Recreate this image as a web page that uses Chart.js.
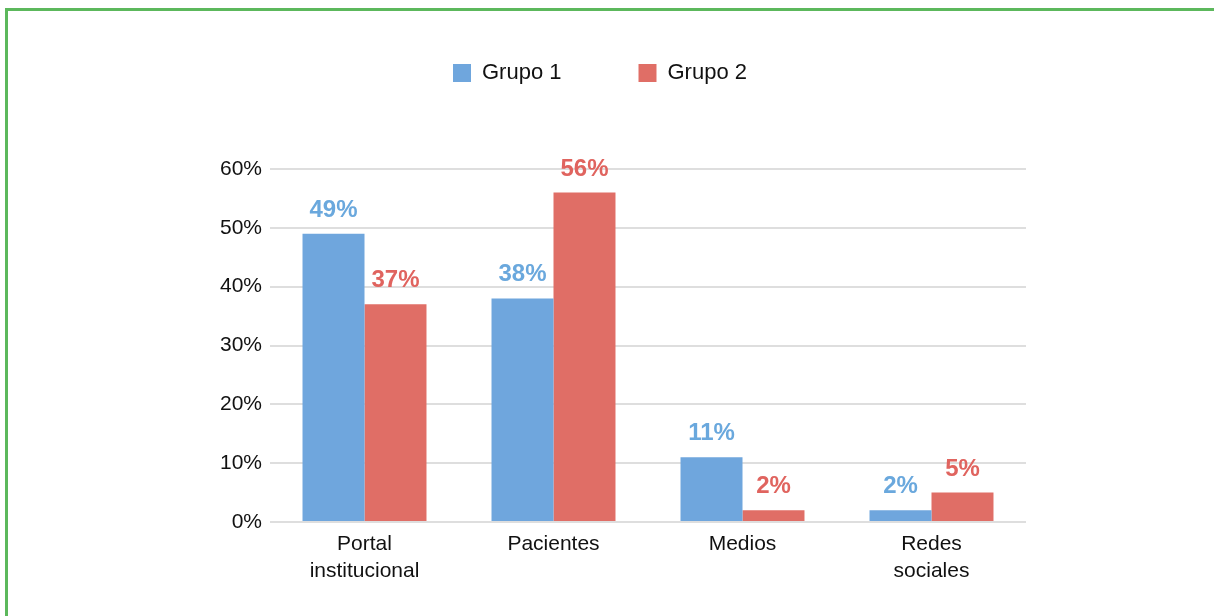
<!DOCTYPE html>
<html lang="es">
<head>
    <meta charset="UTF-8">
    <title>Grupo 1 / Grupo 2</title>
    <script src="https://cdn.jsdelivr.net/npm/chart.js"></script>
    <style>
        html, body { margin: 0; padding: 0; background: #fff; }
        #wrap { position: relative; width: 1214px; height: 616px; }
        #wrap .top { position: absolute; left: 5px; top: 8px; right: 0; height: 3px; background: #5cb85c; }
        #wrap .left { position: absolute; left: 5px; top: 8px; bottom: 0; width: 3px; background: #5cb85c; }
        canvas { position: absolute; left: 0; top: 0; }
    </style>
</head>
<body>
<div id="wrap">
    <canvas id="grafico" width="1214" height="616"></canvas>
    <div class="top"></div>
    <div class="left"></div>
</div>
<script>
    const categorias = [['Portal', 'institucional'], 'Pacientes', 'Medios', ['Redes', 'sociales']];
    const grupo1 = [49, 38, 11, 2];
    const grupo2 = [37, 56, 2, 5];
    const series = ['Grupo 1', 'Grupo 2'];
    const ticksY = [0, 10, 20, 30, 40, 50, 60];

    const azul = '#6fa6dd';
    const rojo = '#e06e66';
    const azulTexto = '#6aa8dd';
    const rojoTexto = '#e0645f';

    // etiquetas encima de las barras
    const etiquetas = {
        id: 'etiquetas',
        afterDatasetsDraw(chart) {
            const ctx = chart.ctx;
            ctx.save();
            ctx.font = 'bold 24px "Liberation Sans", Arial, sans-serif';
            ctx.textAlign = 'center';
            ctx.textBaseline = 'alphabetic';
            chart.data.datasets.forEach((ds, i) => {
                const meta = chart.getDatasetMeta(i);
                ctx.fillStyle = i === 0 ? azulTexto : rojoTexto;
                meta.data.forEach((bar, j) => {
                    ctx.fillText(ds.data[j] + '%', bar.x, bar.y - 17);
                });
            });
            ctx.restore();
        }
    };

    // espacio entre leyenda y grafico, y leyenda corrida a la derecha
    const altoLeyenda = {
        id: 'altoLeyenda',
        beforeInit(chart) {
            const fit = chart.legend.fit;
            chart.legend.fit = function () {
                fit.bind(chart.legend)();
                this.height = 184;
            };
        },
        afterLayout(chart) {
            chart.legend.left += 87;
            chart.legend.right += 87;
        }
    };

    new Chart(document.getElementById('grafico'), {
        type: 'bar',
        data: {
            labels: categorias,
            datasets: [
                { label: series[0], data: grupo1, backgroundColor: azul },
                { label: series[1], data: grupo2, backgroundColor: rojo }
            ]
        },
        options: {
            responsive: false,
            animation: false,
            layout: { padding: { top: -15, right: 188, bottom: 0, left: 0 } },
            datasets: { bar: { barPercentage: 1, categoryPercentage: 0.656 } },
            plugins: {
                legend: {
                    position: 'top',
                    labels: {
                        boxWidth: 18,
                        boxHeight: 18,
                        padding: 77,
                        color: '#111',
                        font: { family: '"Liberation Sans", Arial, sans-serif', size: 22 }
                    }
                },
                tooltip: { enabled: false }
            },
            scales: {
                x: {
                    afterFit(scale) { scale.height = 94; },
                    grid: { display: false },
                    border: { display: false },
                    ticks: {
                        padding: 1,
                        color: '#111',
                        font: { family: '"Liberation Sans", Arial, sans-serif', size: 21, lineHeight: 1.27 }
                    }
                },
                y: {
                    min: 0,
                    max: 60,
                    afterFit(scale) { scale.width = 270; },
                    afterBuildTicks(scale) { scale.ticks = ticksY.map(v => ({ value: v })); },
                    grid: { color: '#dedede', lineWidth: 2, drawTicks: false },
                    border: { display: false },
                    ticks: {
                        padding: 8,
                        color: '#111',
                        font: { family: '"Liberation Sans", Arial, sans-serif', size: 21 },
                        callback: v => v + '%'
                    }
                }
            }
        },
        plugins: [etiquetas, altoLeyenda]
    });
</script>
</body>
</html>
